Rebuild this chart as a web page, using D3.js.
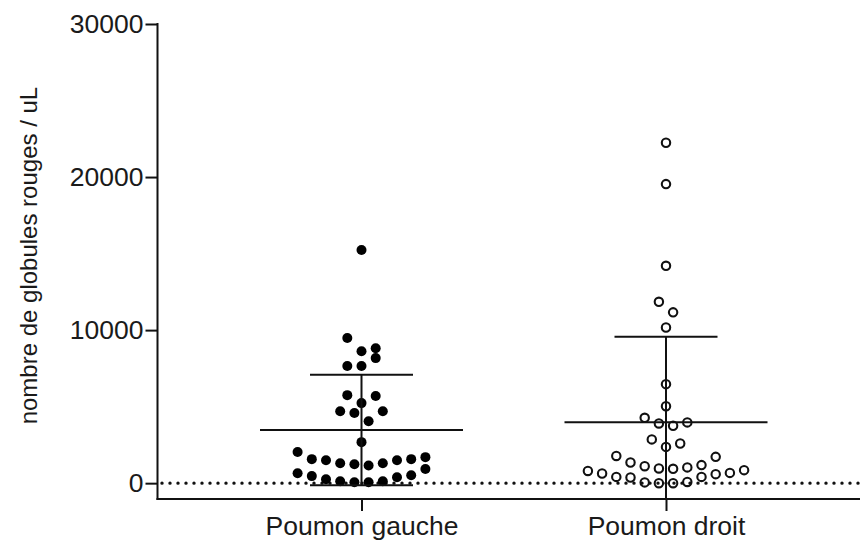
<!DOCTYPE html>
<html>
<head>
<meta charset="utf-8">
<script src="https://cdn.jsdelivr.net/npm/d3@7"></script>
<style>
  html, body { margin: 0; padding: 0; background: #fff; }
  svg { display: block; }
  text { font-family: "Liberation Sans", Arial, Helvetica, sans-serif; fill: #1a1a1a; }
</style>
</head>
<body>
<svg id="chart" width="860" height="542"></svg>
<script>
// ---- data ----
const categories = ["Poumon gauche", "Poumon droit"];
const gaucheValues = [65, 65, 130, 130, 390, 260, 520, 460, 920, 650,
  1150, 1240, 1300, 1300, 1500, 1500, 1570, 1570, 1700, 2040,
  2680, 4050, 4580, 4700, 4700, 5230, 5690, 5750,
  7650, 8170, 7650, 8620, 8820, 9480, 15230];
const droitValues = [0, 0, 80, 50, 410, 370, 590, 410, 670, 630, 850, 800,
  940, 960, 1030, 1110, 1180, 1350, 1720, 1780,
  2370, 2590, 2860, 3750, 3900, 3970, 4270, 5030, 6470,
  10170, 11160, 11850, 14200, 19540, 22240];
const yTicks = [0, 10000, 20000, 30000];
const yDomain = [-1100, 30000];
const yLabel = "nombre de globules rouges / uL";

// ---- layout ----
const W = 860, H = 542;
const axisX = 157.5, axisBottom = 500, axisTop = 24;
const svg = d3.select("#chart");

const y = d3.scaleLinear().domain(yDomain).range([axisBottom, axisTop]);
const x = d3.scalePoint().domain(categories).range([209.25, 818.25]).padding(0.5);

const step = 14.2;            // horizontal spacing of dots
const rowPx = 14.2;           // row height in px
const rowUnits = y.invert(axisBottom - rowPx) - y.invert(axisBottom);

function swarm(values) {
  const order = values.map((v, i) => i).sort((a, b) => values[a] - values[b] || a - b);
  const rows = [];
  let cur = null;
  order.forEach(i => {
    if (!cur || values[i] >= cur.start + rowUnits) {
      cur = { start: values[i], items: [] };
      rows.push(cur);
    }
    cur.items.push(i);
  });
  const offsets = new Array(values.length).fill(0);
  rows.forEach(r => {
    const items = r.items.slice().sort((a, b) => a - b);
    const n = items.length;
    items.forEach((i, k) => {
      let off;
      if (n % 2 === 1) {
        if (k === 0) off = 0;
        else off = (k % 2 === 1 ? 1 : -1) * Math.ceil(k / 2) * step;
      } else {
        off = (k % 2 === 0 ? 1 : -1) * (Math.floor(k / 2) + 0.5) * step;
      }
      offsets[i] = off;
    });
  });
  return values.map((v, i) => ({ v, dx: offsets[i] }));
}

// ---- zero reference line (dotted) ----
svg.append("line")
  .attr("x1", 162).attr("x2", W)
  .attr("y1", y(0)).attr("y2", y(0))
  .attr("stroke", "#111").attr("stroke-width", 3.4)
  .attr("stroke-linecap", "round")
  .attr("stroke-dasharray", "0 8");

// ---- points ----
const groups = [
  { cat: categories[0], values: gaucheValues, filled: true },
  { cat: categories[1], values: droitValues, filled: false }
];

groups.forEach(g => {
  const pts = swarm(g.values);
  const cx = x(g.cat);
  const sel = svg.append("g").selectAll("circle").data(pts).join("circle")
    .attr("cx", d => cx + d.dx)
    .attr("cy", d => y(d.v));
  if (g.filled) {
    sel.attr("r", 5).attr("fill", "#000");
  } else {
    sel.attr("r", 4.2).attr("fill", "none").attr("stroke", "#111").attr("stroke-width", 2.1);
  }

  // mean and SD
  const m = d3.mean(g.values);
  const sd = d3.deviation(g.values);
  const eb = svg.append("g").attr("stroke", "#111").attr("stroke-width", 2).attr("fill", "none");
  const lo = Math.max(m - sd, yDomain[0]);
  eb.append("line").attr("x1", cx).attr("x2", cx).attr("y1", y(lo)).attr("y2", y(m + sd));
  eb.append("line").attr("x1", cx - 101.5).attr("x2", cx + 101.5).attr("y1", y(m)).attr("y2", y(m));
  eb.append("line").attr("x1", cx - 51.5).attr("x2", cx + 51.5).attr("y1", y(m + sd)).attr("y2", y(m + sd));
  if (m - sd > yDomain[0]) {
    eb.append("line").attr("x1", cx - 51.5).attr("x2", cx + 51.5).attr("y1", y(m - sd)).attr("y2", y(m - sd));
  }
});

// ---- axes ----
const yAxis = d3.axisLeft(y).tickValues(yTicks).tickSize(12).tickSizeOuter(0)
  .tickPadding(2).tickFormat(d3.format("d"));
const gy = svg.append("g").attr("transform", `translate(${axisX},0)`).call(yAxis);
gy.select(".domain").remove();
gy.selectAll(".tick line").attr("stroke", "#111").attr("stroke-width", 2);
gy.selectAll(".tick text").style("font-size", "26.5px").attr("fill", "#1a1a1a");
svg.append("line").attr("x1", axisX).attr("x2", axisX)
  .attr("y1", axisTop - 1).attr("y2", axisBottom)
  .attr("stroke", "#111").attr("stroke-width", 2);

const xAxis = d3.axisBottom(x).tickSize(12).tickSizeOuter(0).tickPadding(5);
const gx = svg.append("g").attr("transform", `translate(0,${axisBottom - 1})`).call(xAxis);
gx.select(".domain").remove();
gx.selectAll(".tick line").attr("stroke", "#111").attr("stroke-width", 2);
gx.selectAll(".tick text").style("font-size", "26.5px").attr("fill", "#1a1a1a");
svg.append("line").attr("x1", axisX - 1).attr("x2", W)
  .attr("y1", axisBottom - 1).attr("y2", axisBottom - 1)
  .attr("stroke", "#111").attr("stroke-width", 2);

// y label
svg.append("text")
  .attr("transform", `translate(29,${(axisTop + y(0)) / 2 + 2}) rotate(-90)`)
  .attr("text-anchor", "middle")
  .attr("dy", "0.35em")
  .style("font-size", "24px")
  .text(yLabel);
</script>
</body>
</html>
